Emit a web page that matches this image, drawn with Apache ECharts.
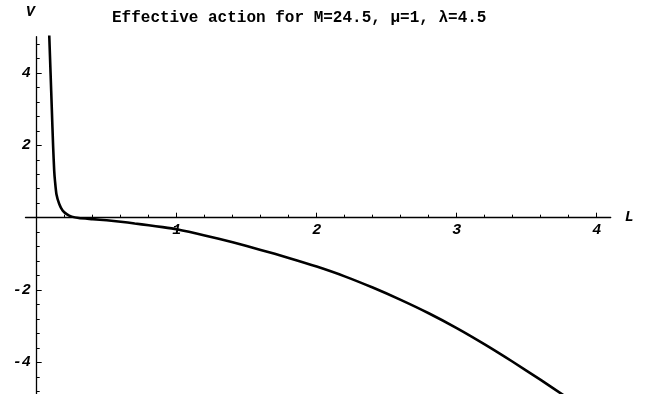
<!DOCTYPE html>
<html>
<head>
<meta charset="utf-8">
<script src="https://cdn.jsdelivr.net/npm/echarts@6/dist/echarts.min.js"></script>
<style>html,body{margin:0;padding:0;background:#fff}#c{width:646px;height:394px}</style>
</head>
<body>
<div id="c"></div>
<script>
const titleText = 'Effective action for M=24.5, \u03bc=1, \u03bb=4.5';
const Lvals = [0.086, 0.090, 0.099, 0.108, 0.117, 0.125, 0.131, 0.141, 0.161, 0.185, 0.214, 0.25, 0.30, 0.4, 0.5, 0.6, 0.7, 0.8, 0.9, 1.0, 1.2, 1.4, 1.6, 1.8, 2.0, 2.2, 2.4, 2.6, 2.8, 3.0, 3.2, 3.4, 3.6, 3.8];
const Vvals = [5.5, 5.0, 4.0, 3.0, 2.0, 1.3, 1.0, 0.65, 0.38, 0.2, 0.1, 0.03, -0.01, -0.04, -0.07, -0.11, -0.16, -0.21, -0.26, -0.32, -0.49, -0.68, -0.89, -1.11, -1.35, -1.62, -1.93, -2.27, -2.64, -3.05, -3.5, -3.98, -4.48, -5.0];
const xMajorTicks = [1, 2, 3, 4];
const xMinorTicks = [0.2, 0.4, 0.6, 0.8, 1.2, 1.4, 1.6, 1.8, 2.2, 2.4, 2.6, 2.8, 3.2, 3.4, 3.6, 3.8, 4.0];
const yMajorTicks = [-4, -2, 2, 4];
const yMinorTicks = [-4.8, -4.4, -3.6, -3.2, -2.8, -2.4, -1.6, -1.2, -0.8, -0.4, 0.4, 0.8, 1.2, 1.6, 2.4, 2.8, 3.2, 3.6, 4.4, 4.8];

const labelFont = {fontFamily: 'Liberation Mono', fontWeight: 'bold', fontStyle: 'italic', fontSize: 15, color: '#000'};
const xMin = -0.08, xMax = 4.1, yMin = -5, yMax = 5;
const gridLeft = 25.5, gridWidth = 585.2, gridTop = 36.7, gridHeight = 362;
// place axes through the origin (Mathematica style) using offsets from grid edges
const xAxisOffset = -((0 - yMin) / (yMax - yMin)) * gridHeight;
const yAxisOffset = -((0 - xMin) / (xMax - xMin)) * gridWidth;

const chart = echarts.init(document.getElementById('c'), null, {renderer: 'canvas'});
chart.setOption({
  animation: false,
  backgroundColor: '#fff',
  title: {
    text: titleText, left: 107, top: 5,
    textStyle: {fontFamily: 'Liberation Mono', fontWeight: 'bold', fontSize: 16, color: '#000'}
  },
  grid: {left: gridLeft, width: gridWidth, top: gridTop, height: gridHeight, containLabel: false, outerBoundsMode: 'none'},
  xAxis: [{
    type: 'value', min: xMin, max: xMax, position: 'bottom', offset: xAxisOffset,
    name: 'L', nameLocation: 'end', nameGap: 14,
    nameTextStyle: labelFont,
    axisLine: {show: true, onZero: false, lineStyle: {color: '#000', width: 1.3}},
    axisTick: {show: true, inside: true, length: 5, customValues: xMajorTicks, lineStyle: {color: '#000', width: 1}},
    axisLabel: {show: true, customValues: xMajorTicks, margin: 5, ...labelFont},
    splitLine: {show: false}
  }, {
    type: 'value', min: xMin, max: xMax, position: 'bottom', offset: xAxisOffset,
    axisLine: {show: false, onZero: false},
    axisTick: {show: true, inside: true, length: 3, customValues: xMinorTicks, lineStyle: {color: '#000', width: 1}},
    axisLabel: {show: false},
    splitLine: {show: false}
  }],
  yAxis: [{
    type: 'value', min: yMin, max: yMax, position: 'left', offset: yAxisOffset,
    name: 'V', nameLocation: 'end', nameGap: 17,
    nameTextStyle: {...labelFont, align: 'right', padding: [0, 2, 0, 0]},
    axisLine: {show: true, onZero: false, lineStyle: {color: '#000', width: 1.3}},
    axisTick: {show: true, inside: true, length: 5, customValues: yMajorTicks, lineStyle: {color: '#000', width: 1}},
    axisLabel: {show: true, customValues: yMajorTicks, margin: 6, ...labelFont},
    splitLine: {show: false}
  }, {
    type: 'value', min: yMin, max: yMax, position: 'left', offset: yAxisOffset,
    axisLine: {show: false, onZero: false},
    axisTick: {show: true, inside: true, length: 3, customValues: yMinorTicks, lineStyle: {color: '#000', width: 1}},
    axisLabel: {show: false},
    splitLine: {show: false}
  }],
  series: [{
    type: 'line',
    xAxisIndex: 0, yAxisIndex: 0,
    data: Lvals.map((l, i) => [l, Vvals[i]]),
    showSymbol: false,
    smooth: 0.2,
    clip: true,
    lineStyle: {color: '#000', width: 2.6}
  }]
});
</script>
</body>
</html>
